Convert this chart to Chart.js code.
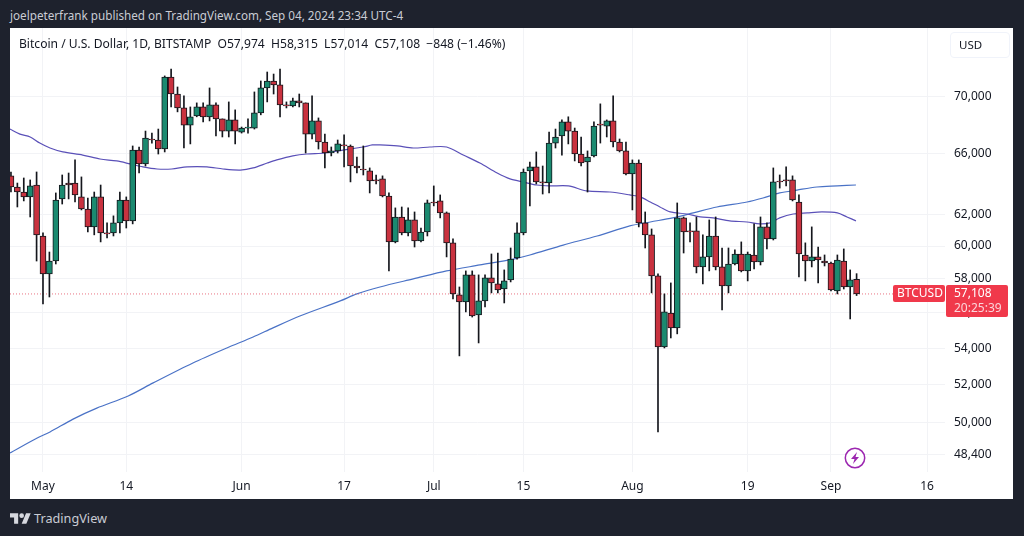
<!DOCTYPE html>
<html>
<head>
<meta charset="utf-8">
<title>BTCUSD</title>
<script src="https://cdn.jsdelivr.net/npm/chart.js@4"></script>
<style>
    html, body { margin: 0; padding: 0; background: #1e222d; width: 1024px; height: 536px; overflow: hidden; font-family: "Noto Sans", sans-serif; }
    #frame { position: absolute; left: 10px; top: 28px; width: 1003px; height: 471px; background: #fff; }
    #myChart { position: absolute; left: 0; top: 0; }
    #published { position: absolute; left: 10px; top: 6px; font-size: 11.7px; line-height: 18px; color: #c9ccd4; white-space: nowrap; }
    #legend { position: absolute; left: 9px; top: 7px; font-size: 12.1px; line-height: 18px; color: #131722; white-space: pre; }
    #usd { position: absolute; left: 940px; top: 4px; width: 60px; height: 26px; box-sizing: border-box; border: 1px solid #f0f3fa; border-radius: 4px; font-size: 11.5px; line-height: 24px; color: #131722; padding-left: 8px; }
    #bolt { position: absolute; left: 834px; top: 419px; }
    #logo { position: absolute; left: 10px; top: 512px; }
    #brand { position: absolute; left: 34px; top: 508px; font-size: 12.7px; line-height: 20px; color: #c9ccd4; }
</style>
</head>
<body>
<div id="published">joelpeterfrank published on TradingView.com, Sep 04, 2024 23:34 UTC-4</div>
<div id="frame">
    <canvas id="myChart" width="1003" height="471"></canvas>
    <div id="legend">Bitcoin / U.S. Dollar, 1D, BITSTAMP  O57,974  H58,315  L57,014  C57,108  −848 (−1.46%)</div>
    <div id="usd">USD</div>
    <svg id="bolt" width="22" height="22" viewBox="0 0 22 22">
        <circle cx="11" cy="11" r="9.7" fill="#fff" stroke="#9c27b0" stroke-width="1.5"/>
        <path d="M13 5 L7 12 L10.5 12 L9 17 L15 10 L11.5 10 Z" fill="#9c27b0"/>
    </svg>
</div>
<svg id="logo" width="21" height="12" viewBox="0 0 36 20">
    <path d="M14 20H7V9H0V2h14v18zM28 20h-8l7.5-18h8L28 20z" fill="#d6d8de"/>
    <circle cx="20" cy="6" r="4" fill="#d6d8de"/>
</svg>
<div id="brand">TradingView</div>

<script>
// daily candles, first one is Apr 26, day 0 is May 1
var firstDay = -5;
var opens = [64500,63765,63435,63115,63895,
    60625,58300,59080,62985,64025,64025,63115,62335,61195,63115,
    60815,60815,61445,62915,61575,66240,65300,67000,66930,66310,
    71420,70180,69180,67970,68620,69250,68550,69400,68400,67550,
    68330,67480,67760,67760,68830,70620,71130,70840,69400,69330,
    69680,69540,67340,68260,66790,66040,66180,66590,66520,65160,
    64960,64830,64230,64300,63175,60255,61825,60815,61635,60315,
    60875,62785,62855,62085,60195,57050,56640,58240,55885,56700,
    58060,57700,57400,57940,59270,60815,64830,65100,64100,64025,
    66720,67210,68190,67550,65970,65430,65840,68040,67900,68260,
    66790,66180,64630,65360,61445,60695,58180,54075,55995,55145,
    61765,60945,60945,58720,59330,60625,58720,57580,58900,59510,
    58480,59450,59020,61195,60445,64160,64230,64230,62785,59450,
    59080,59330,59080,58960,57290,59080,57520,57974];
var closes = [63765,63435,63115,63835,60695,
    58300,59080,62915,63895,63895,63245,62335,61195,63115,60815,
    60755,61445,62915,61575,66240,65300,67070,66930,66310,71420,
    70180,69180,67970,68550,69250,68550,69400,68400,67550,68330,
    67550,67760,67830,68830,70620,71130,70840,69400,69330,69680,
    69540,67340,68260,66790,66040,66180,66660,66520,65160,65030,
    64890,64160,64160,63175,60255,61825,60815,61635,60315,60875,
    62725,62725,62085,60195,57110,56640,58240,55825,56700,58060,
    57760,57350,57880,59200,60815,64760,65100,64100,64025,66720,
    67140,68190,67550,65970,65360,65770,67900,67970,68260,66790,
    66180,64630,65360,61445,60695,58180,54075,56060,55145,61765,
    60875,60875,58720,59330,60625,58720,57580,58900,59510,58480,
    59510,59020,61195,60445,64100,64100,64160,62915,59510,59080,
    59330,59140,58960,57350,59140,57520,57940,57108];
var highs = [64760,64025,64360,64230,64760,
    60815,59630,63375,64560,64690,65570,64430,63045,63435,63895,
    61445,61895,63435,63115,66520,66450,67550,67410,67690,71500,
    72010,70690,70040,69250,69540,69540,70620,69540,68400,69610,
    69040,67830,68400,70330,71130,71790,71640,72010,69610,69890,
    70180,69540,70040,68470,67340,66450,66930,67280,66590,65770,
    66520,65030,64560,64500,63375,62405,62465,62405,62145,61125,
    62915,63835,63245,62145,60445,57520,58480,58480,58240,58240,
    59510,59570,58540,59880,61445,64960,65430,66110,65160,67480,
    67690,68330,68550,67760,67140,66180,68190,69470,68330,70040,
    67000,66790,65570,65570,62145,61065,58300,57110,57760,62725,
    61825,61445,61825,60695,61635,61825,59880,59880,59760,60255,
    59630,61385,61825,61445,65030,64560,65100,64500,63245,60195,
    61195,59940,59450,59020,59450,59820,58540,58315];
var lows = [63435,62465,62855,61825,59080,
    56530,56930,58900,62655,62985,62785,62275,60875,60695,60255,
    60505,60625,60815,61125,61385,64690,65160,66720,65970,66110,
    69250,68900,66380,66660,68550,68190,68260,67210,67140,67140,
    66660,67410,67410,67690,68690,69610,70180,68550,69180,69250,
    69250,66040,67000,66310,65030,65840,66040,65100,64100,64690,
    64560,63375,63965,63115,58480,60195,60695,60625,59940,60255,
    60625,62535,61765,59330,56820,53575,56060,55765,54295,56350,
    57170,57170,56580,57820,59200,60695,62535,63965,63305,63375,
    66380,65900,66660,65500,65160,63435,65770,66720,67140,66450,
    66110,64560,62275,61195,59880,57170,49535,54015,54575,54805,
    59570,60255,58360,57700,58480,58540,56180,57170,58840,58420,
    57880,58600,58840,59820,60375,63695,63835,62855,58120,57880,
    58720,57760,58780,57290,57110,57400,55655,57014];

// the two moving averages, read at selected days
var fastDays = [-5.15,-3.6,-2,-0.5,1.1,3.1,6.2,8.9,11.5,13.6,15.6,17.8,20.1,22.5,25.6,28.1,30.8,32.8,35,36.5,39,41.2,44,46.8,50,51.4,52.6,55.3,57.8,60.4,63,65.6,68.2,70.9,72.9,74.9,77.1,79.1,82,84.9,88.5,91.6,93.2,94.8,96.3,97.9,100.5,102.6,104.6,107.2,109.9,111.9,113.5,115,117.1,119.3,121.6,124,125.5,126.9];
var fastValues = [67690,67340,67140,66720,66380,66110,65900,65630,65500,65300,65100,64960,64960,65100,65100,64960,64890,65030,65360,65570,65840,65970,66040,66240,66450,66590,66590,66520,66380,66450,66450,65900,65360,64690,64300,64100,63895,63835,63835,63505,63435,63245,63115,62785,62465,62145,62015,61825,61765,61575,61505,61385,61445,61765,62015,62085,62145,62085,61825,61575];
var slowDays = [-5.15,-0.9,1.1,4.7,8.4,13.3,17.2,23.4,28.7,32.8,35.9,40.1,46.4,49,52.6,57.8,63,68.2,73.4,76,81.2,86.5,91.6,94.8,98.3,101.5,105.2,109.9,112.4,115,117.7,120.8,124,126.9];
var slowValues = [48475,49225,49535,50195,50765,51405,52105,53185,54015,54625,55145,55825,56700,57110,57520,58000,58480,58840,59200,59450,60060,60625,61255,61505,61765,62085,62465,62785,63045,63375,63565,63765,63835,63895];

// axes
var priceTicks = [48400,50000,52000,54000,56000,58000,60000,62000,66000,70000];
var dayTicks = [0,13,31,47,61,75,92,110,123,138];
var dayLabels = ["May","14","Jun","17","Jul","15","Aug","19","Sep","16"];
var lastPrice = 57108;
var countdown = "20:25:39";
var symbol = "BTCUSD";

var RED = "#c9323f";
var GREEN = "#1b8a70";
var DARK = "#14161c";

var wickData = [];
var bodyData = [];
var bodyColors = [];
for (var i = 0; i < opens.length; i++) {
    var day = firstDay + i;
    wickData.push({x: day, y: [lows[i], highs[i]]});
    bodyData.push({x: day, y: [opens[i], closes[i]]});
    bodyColors.push(closes[i] >= opens[i] ? GREEN : RED);
}

function toPoints(days, values) {
    var points = [];
    for (var i = 0; i < days.length; i++) {
        points.push({x: days[i], y: values[i]});
    }
    return points;
}

// axis labels must not push the plot area in
function noPadding(scale) {
    scale.paddingTop = 0;
    scale.paddingBottom = 0;
    scale.paddingLeft = 0;
    scale.paddingRight = 0;
}

// the red boxes at the right, they follow the last price on the scale
var priceLabelPlugin = {
    id: "priceLabel",
    afterDraw: function(chart) {
        var ctx = chart.ctx;
        var y = Math.round(chart.scales.y.getPixelForValue(lastPrice));
        var right = chart.chartArea.right;
        ctx.save();
        ctx.fillStyle = "#f0394b";
        ctx.beginPath();
        ctx.roundRect(right - 52, y - 9, 52, 17, 2);
        ctx.fill();
        ctx.beginPath();
        ctx.roundRect(right + 1, y - 9, 62, 32, 2);
        ctx.fill();
        ctx.font = "12px 'Noto Sans'";
        ctx.textBaseline = "middle";
        ctx.fillStyle = "#ffffff";
        ctx.fillText(symbol, right - 48, y - 0.5);
        ctx.fillText(lastPrice.toLocaleString("en-US"), right + 9, y - 0.5);
        ctx.fillStyle = "#fbd5da";
        ctx.fillText(countdown, right + 9, y + 14.5);
        ctx.restore();
    }
};

var mychart = new Chart(document.getElementById("myChart"), {
    type: "bar",
    data: {
        datasets: [
            {
                type: "line",
                data: toPoints(slowDays, slowValues),
                borderColor: "#4a72c6",
                borderWidth: 1.2,
                pointRadius: 0,
                tension: 0.3,
                order: 5
            },
            {
                type: "line",
                data: toPoints(fastDays, fastValues),
                borderColor: "#5a50b8",
                borderWidth: 1.2,
                pointRadius: 0,
                tension: 0.3,
                order: 4
            },
            {
                type: "line",
                data: toPoints([-5.15, 141], [lastPrice, lastPrice]),
                borderColor: "rgba(225,70,90,0.75)",
                borderWidth: 1,
                borderDash: [1, 2],
                pointRadius: 0,
                order: 3
            },
            {
                data: wickData,
                backgroundColor: DARK,
                barThickness: 1,
                grouped: false,
                order: 2
            },
            {
                data: bodyData,
                backgroundColor: bodyColors,
                borderColor: DARK,
                borderWidth: 1,
                borderSkipped: false,
                barThickness: 6,
                grouped: false,
                order: 1
            }
        ]
    },
    options: {
        responsive: false,
        animation: false,
        events: [],
        layout: { padding: 0 },
        plugins: {
            legend: { display: false },
            tooltip: { enabled: false }
        },
        scales: {
            x: {
                type: "linear",
                offset: false,
                min: -5.15,
                max: 140.8,
                afterBuildTicks: function(scale) {
                    scale.ticks = dayTicks.map(function(d) { return {value: d}; });
                },
                afterFit: function(scale) {
                    scale.height = 27;
                    noPadding(scale);
                },
                grid: { color: "#f2f3f6", drawTicks: false, offset: false },
                border: { display: false },
                ticks: {
                    autoSkip: false,
                    maxRotation: 0,
                    padding: 7,
                    color: "#131722",
                    font: { family: "'Noto Sans'", size: 12 },
                    callback: function(value) { return dayLabels[dayTicks.indexOf(value)]; }
                }
            },
            y: {
                type: "logarithmic",
                position: "right",
                min: 47531,
                max: 75122,
                afterBuildTicks: function(scale) {
                    scale.ticks = priceTicks.map(function(p) { return {value: p}; });
                },
                afterFit: function(scale) {
                    scale.width = 68;
                    noPadding(scale);
                },
                grid: { color: "#f2f3f6", drawTicks: false },
                border: { display: false },
                ticks: {
                    autoSkip: false,
                    padding: 9,
                    color: "#131722",
                    font: { family: "'Noto Sans'", size: 12 },
                    callback: function(value) { return Number(value).toLocaleString("en-US"); }
                }
            }
        }
    },
    plugins: [priceLabelPlugin]
});
</script>
</body>
</html>
